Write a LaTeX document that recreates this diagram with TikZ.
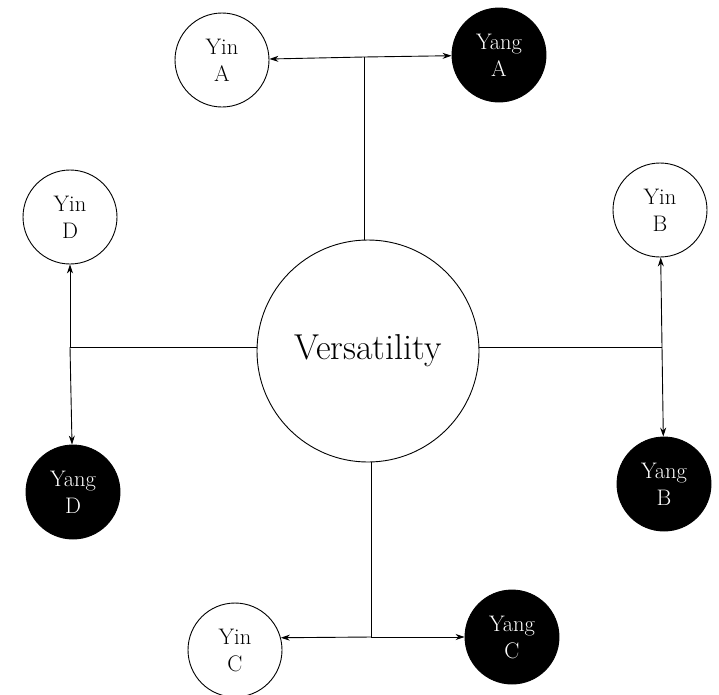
\documentclass[tikz,border=0pt]{standalone}
\usetikzlibrary{arrows.meta}
\begin{document}
\begin{tikzpicture}[x=1pt,y=-1pt,
  yin/.style={circle,draw=black,line width=0.9pt,fill=white,minimum size=94pt,inner sep=0pt,align=center,font=\fontsize{22.5}{27}\selectfont},
  yang/.style={circle,draw=black,line width=0.9pt,fill=black,text=white,minimum size=94pt,inner sep=0pt,align=center,font=\fontsize{22.5}{27}\selectfont},
  core/.style={circle,draw=black,line width=0.9pt,minimum size=222pt,inner sep=0pt,font=\fontsize{36}{40}\selectfont},
  link/.style={line width=0.9pt},
  arr/.style={line width=0.9pt,-{Stealth[length=9pt,width=6pt]}}]
\useasboundingbox (0,0) rectangle (719,694);
\node[core] (V) at (368,351) {Versatility};
\node[yin] (yinA) at (222,60) {Yin\\A};
\node[yang] (yangA) at (499,55) {Yang\\A};
\node[yin] (yinD) at (70,217) {Yin\\D};
\node[yang] (yangD) at (73,492) {Yang\\D};
\node[yin] (yinB) at (660,210) {Yin\\B};
\node[yang] (yangB) at (664,484) {Yang\\B};
\node[yin] (yinC) at (235,650) {Yin\\C};
\node[yang] (yangC) at (512,637) {Yang\\C};
\coordinate (jA) at (364,57);
\coordinate (jD) at (70,347);
\coordinate (jB) at (662,347);
\coordinate (jC) at (371,637);
\draw[link] (jA) -- (jA |- V.north);
\draw[link] (jD) -- (jD -| V.west);
\draw[link] (jB) -- (jB -| V.east);
\draw[link] (jC) -- (jC |- V.south);
\draw[arr] (jA) -- (yinA);
\draw[arr] (jA) -- (yangA);
\draw[arr] (jD) -- (yinD);
\draw[arr] (jD) -- (yangD);
\draw[arr] (jB) -- (yinB);
\draw[arr] (jB) -- (yangB);
\draw[arr] (jC) -- (yinC.15);
\draw[arr] (jC) -- (yangC);
\end{tikzpicture}
\end{document}
